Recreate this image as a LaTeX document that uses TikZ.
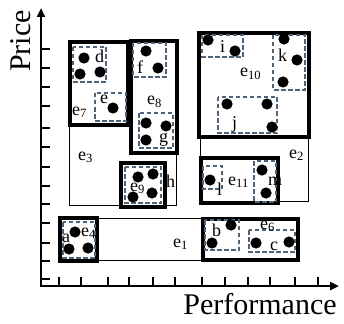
\documentclass[tikz,border=0pt]{standalone}
\usepackage{fontspec}
\setmainfont{Liberation Serif}
\usetikzlibrary{arrows.meta}
\definecolor{dashc}{HTML}{4F6478}
\tikzset{
  thinbox/.style={draw=black,line width=0.9pt},
  thickbox/.style={draw=black,line width=4pt,fill=white},
  dashbox/.style={draw=dashc,line width=1.8pt,dash pattern=on 4.5pt off 2.5pt},
  dot/.style={fill=black},
  lbl/.style={font=\fontsize{18}{20}\selectfont,inner sep=0pt,anchor=base west},
  axis/.style={line width=2.6pt},
  tick/.style={line width=2.2pt},
  axlbl/.style={font=\fontsize{30}{32}\selectfont,inner sep=0pt}
}
\newcommand{\sdot}[2]{\fill[dot] (#1,#2) circle (5.6);}
\begin{document}
\begin{tikzpicture}[x=1pt,y=-1pt]
\useasboundingbox (0,0) rectangle (344,323);
% axes
\draw[axis,-{Triangle[length=9pt,width=8pt]}] (41,287) -- (41,8);
\draw[axis,-{Triangle[length=9pt,width=8pt]}] (40,286) -- (339,286);
\foreach \y in {49,68,87,106,128,147,167,186,204,223,243,261,279}
  \draw[tick] (41,\y) -- (50,\y);
\foreach \x in {59,81,108,129,153,175,202,225,248,270,295,318}
  \draw[tick] (\x,286) -- (\x,277);
\node[axlbl,rotate=90] (price) at (21,41) {Price};
\node[axlbl] (perf) at (260,304) {Performance};
% thin boxes
\draw[thinbox] (69,42) rectangle (176,205);
\draw[thinbox] (200,137) rectangle (308,201);
\draw[thinbox] (60,218) rectangle (203,260);
% thick boxes
\draw[thickbox] (70,42) rectangle (128,125);
\draw[thickbox] (131,41) rectangle (177,153);
\draw[thickbox] (121,163) rectangle (165,207);
\draw[thickbox] (60,218) rectangle (97,261);
\draw[thickbox] (203,219) rectangle (298,260);
\draw[thickbox] (201,158) rectangle (278,203);
\draw[thickbox] (199,33) rectangle (309,137);
% dashed boxes
\draw[dashbox] (73,47) rectangle (106,82);
\draw[dashbox] (95,93) rectangle (126,121);
\draw[dashbox] (133,43) rectangle (166,77);
\draw[dashbox] (139,113) rectangle (173,148);
\draw[dashbox] (125,167) rectangle (161,203);
\draw[dashbox] (63,222) rectangle (95,258);
\draw[dashbox] (205,220) rectangle (239,250);
\draw[dashbox] (249,230) rectangle (295,252);
\draw[dashbox] (203,166) rectangle (222,189);
\draw[dashbox] (254,161) rectangle (276,202);
\draw[dashbox] (202,35) rectangle (243,57);
\draw[dashbox] (273,35) rectangle (305,90);
\draw[dashbox] (218,97) rectangle (277,133);
% dots
\sdot{84}{58}\sdot{80}{74}\sdot{100}{72}
\sdot{113}{108}
\sdot{146}{51}\sdot{158}{68}
\sdot{146}{123}\sdot{166}{126}\sdot{146}{140}
\sdot{138}{177}\sdot{153}{174}\sdot{133}{197}\sdot{152}{193}
\sdot{75}{232}\sdot{69}{249}\sdot{88}{248}
\sdot{231}{225}\sdot{212}{243}
\sdot{256}{243}\sdot{289}{242}
\sdot{210}{180}
\sdot{262}{170}\sdot{266}{193}
\sdot{208}{40}\sdot{235}{51}
\sdot{284}{39}\sdot{297}{60}\sdot{283}{82}
\sdot{227}{104}\sdot{267}{104}\sdot{272}{127}
% labels
\node[lbl] (ld) at (95,63) {d};
\node[lbl] (le) at (100,103) {e};
\node[lbl] (lf) at (137,74) {f};
\node[lbl] (le8) at (147,105) {e\textsubscript{8}};
\node[lbl] (lg) at (159,142) {g};
\node[lbl] (le7) at (72,115) {e\textsubscript{7}};
\node[lbl] (le3) at (78,160) {e\textsubscript{3}};
\node[lbl] (le9) at (130,191) {e\textsubscript{9}};
\node[lbl] (lh) at (166,187) {h};
\node[lbl] (la) at (62,242) {a};
\node[lbl] (le4) at (81,236) {e\textsubscript{4}};
\node[lbl] (le1) at (173,247) {e\textsubscript{1}};
\node[lbl] (lb) at (212,236) {b};
\node[lbl] (le6) at (260,229) {e\textsubscript{6}};
\node[lbl] (lc) at (270,250) {c};
\node[lbl] (ll) at (217,195) {l};
\node[lbl] (le11) at (228,185) {e\textsubscript{11}};
\node[lbl] (lm) at (268,185) {m};
\node[lbl] (le2) at (289,158) {e\textsubscript{2}};
\node[lbl] (le10) at (240,77) {e\textsubscript{10}};
\node[lbl] (li) at (220,53) {i};
\node[lbl] (lk) at (278,62) {k};
\node[lbl] (lj) at (232,128) {j};
\end{tikzpicture}
\end{document}
